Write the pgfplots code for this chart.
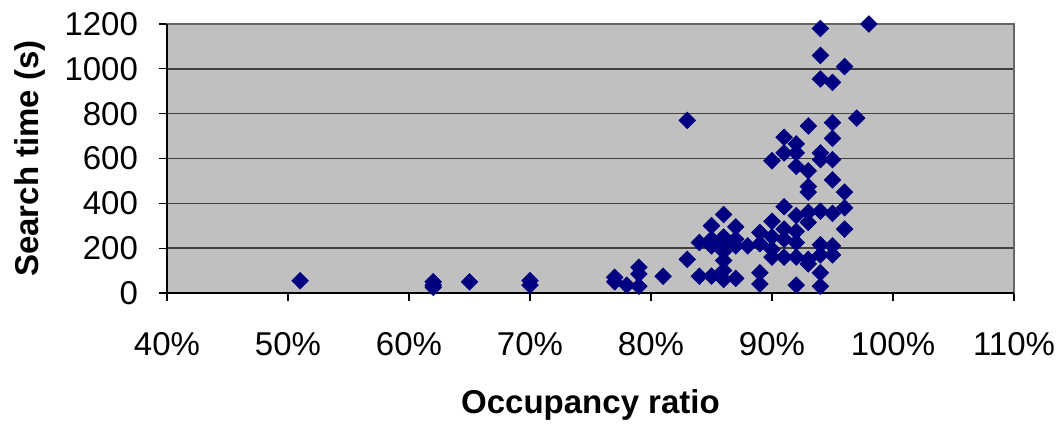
\documentclass[border=0pt]{standalone}
\usepackage{fontspec}
\setmainfont{Liberation Sans}
\usepackage{pgfplots}
\usepackage{pgfplotstable}
\pgfplotsset{compat=1.18}
\pgfplotstableread{
x y
0.51 55
0.62 50
0.62 35
0.62 25
0.65 50
0.70 55
0.70 35
0.77 70
0.77 50
0.78 35
0.79 115
0.79 85
0.79 30
0.81 75
0.83 770
0.83 150
0.84 225
0.84 75
0.85 300
0.85 240
0.85 210
0.85 75
0.86 350
0.86 250
0.86 220
0.86 185
0.86 145
0.86 100
0.86 60
0.87 295
0.87 240
0.87 210
0.87 65
0.88 210
0.89 270
0.89 220
0.89 90
0.89 40
0.90 590
0.90 320
0.90 250
0.90 195
0.90 160
0.91 695
0.91 625
0.91 385
0.91 285
0.91 240
0.91 160
0.92 665
0.92 625
0.92 565
0.92 345
0.92 275
0.92 225
0.92 160
0.92 35
0.93 745
0.93 545
0.93 475
0.93 450
0.93 360
0.93 315
0.93 150
0.93 130
0.94 1180
0.94 1060
0.94 955
0.94 625
0.94 595
0.94 365
0.94 215
0.94 170
0.94 90
0.94 30
0.95 940
0.95 760
0.95 690
0.95 595
0.95 505
0.95 355
0.95 210
0.95 170
0.96 1010
0.96 450
0.96 380
0.96 285
0.97 780
0.98 1200
}\datatable
\definecolor{navy}{HTML}{000080}
\definecolor{plotbg}{HTML}{C0C0C0}
\begin{document}
\begin{tikzpicture}
\begin{axis}[
  scale only axis,
  width=423.5pt, height=134.5pt,
  xmin=0.4, xmax=1.1, ymin=0, ymax=1200,
  xtick={0.4,0.5,0.6,0.7,0.8,0.9,1.0,1.1},
  xticklabels={40\%,50\%,60\%,70\%,80\%,90\%,100\%,110\%},
  ytick={0,200,400,600,800,1000,1200},
  yticklabels={0,200,400,600,800,1000,1200},
  tick label style={font=\fontsize{16.5}{18}\selectfont},
  label style={font=\bfseries\fontsize{16.5}{18}\selectfont},
  xlabel={Occupancy ratio},
  ylabel={Search time (s)},
  xticklabel style={yshift=-12pt},
  yticklabel style={xshift=-7pt},
  xlabel style={at={([yshift=-56pt]axis description cs:0.5,0)}, anchor=center},
  ylabel style={at={([xshift=-68.5pt]axis description cs:0,0.5)}, anchor=center},
  axis background/.style={fill=plotbg},
  ymajorgrids,
  grid style={black!75, line width=0.8pt},
  tick align=outside,
  major tick length=4pt,
  xtick pos=bottom, ytick pos=left,
  tick style={black, line width=0.6pt},
  axis line style={draw=gray!80!black, line width=0.6pt},
  clip=false,
]
\addplot[only marks, mark=square*, mark size=2.9pt,
  mark options={rotate=45, fill=navy, draw=navy}] table[x=x,y=y] {\datatable};
\draw[black, line width=0.8pt] (rel axis cs:0,1) -- (rel axis cs:0,0) -- (rel axis cs:1,0);
\coordinate (sw) at (rel axis cs:0,0);
\coordinate (ne) at (rel axis cs:1,1);
\end{axis}
\pgfresetboundingbox
\path ([shift={(-83.5pt,-65pt)}]sw) rectangle ([shift={(23pt,12pt)}]ne);
\end{tikzpicture}
\end{document}
